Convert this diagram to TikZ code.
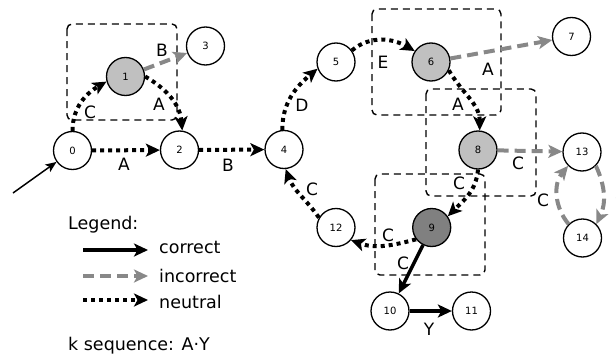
\documentclass[tikz,border=0pt]{standalone}
\usepackage{fontspec}
\setmainfont{DejaVu Sans}
\usetikzlibrary{arrows.meta}
\definecolor{lgray}{RGB}{192,192,192}
\definecolor{dgray}{RGB}{128,128,128}
\definecolor{egray}{RGB}{136,136,136}
\begin{document}
\begin{tikzpicture}[x=1pt,y=1pt,
  st/.style={circle, draw, line width=1.3pt, minimum size=38pt, inner sep=0pt, fill=white, font=\fontsize{10}{12}\selectfont},
  bigtip/.style={-{Stealth[length=14pt,width=13pt,inset=3.5pt]}},
  neutral/.style={bigtip, line width=4pt, dash pattern=on 4pt off 4pt},
  incorrect/.style={bigtip, draw=egray, line width=4pt, dash pattern=on 11pt off 6pt},
  correct/.style={bigtip, line width=3.5pt},
  initarrow/.style={-{Stealth[length=11pt,width=9pt,inset=2.5pt]}, line width=1.5pt},
  boxd/.style={draw, line width=1.4pt, dash pattern=on 7pt off 5pt, rounded corners=5pt},
  lbl/.style={font=\fontsize{17}{20}\selectfont, inner sep=0pt},
  txt/.style={font=\fontsize{17.5}{20}\selectfont, inner sep=0pt, anchor=base west}]
\useasboundingbox (0,0) rectangle (616,-356);
% boxes
\draw[boxd] (67,-24) rectangle (177,-120);
\draw[boxd] (372,-9) rectangle (501,-115);
\draw[boxd] (426,-89) rectangle (536,-196);
\draw[boxd] (375,-174) rectangle (485,-275);
% nodes
\node[st] (n0) at (72.5,-150.5) {0};
\node[st, fill=lgray] (n1) at (125.5,-76.5) {1};
\node[st] (n2) at (179.5,-150) {2};
\node[st] (n3) at (205.5,-46) {3};
\node[st] (n4) at (284,-149.5) {4};
\node[st] (n5) at (336,-62) {5};
\node[st, fill=lgray] (n6) at (431,-62) {6};
\node[st] (n7) at (571.5,-36.5) {7};
\node[st, fill=lgray] (n8) at (478,-150) {8};
\node[st, fill=dgray] (n9) at (431.7,-227.5) {9};
\node[st] (n10) at (390,-311) {10};
\node[st] (n11) at (471.5,-311) {11};
\node[st] (n12) at (336,-227.5) {12};
\node[st] (n13) at (582,-152) {13};
\node[st] (n14) at (582.5,-238) {14};
% initial
\coordinate (init) at (13,-193);
\draw[initarrow] (init) -- (n0);
% edges
\draw[neutral] (n0) -- (n2) node[lbl] at (124,-164) {A};
\draw[neutral] (n2) -- (n4) node[lbl] at (228,-165) {B};
\draw[neutral] (n0.90) to[out=90,in=210] (n1.195) node[lbl] at (90,-112) {C};
\draw[neutral] (n1.0) to[out=-30,in=95] (n2.82) node[lbl] at (159,-104) {A};
\draw[incorrect] (n1) -- (n3) node[lbl] at (162,-50) {B};
\draw[neutral] (n4.95) to[out=90,in=220] (n5.200) node[lbl] at (302,-105) {D};
\draw[neutral] (n5.36) to[out=40,in=150] (n6.146) node[lbl] at (383,-62) {E};
\draw[incorrect] (n6) -- (n7) node[lbl] at (488,-69) {A};
\draw[neutral] (n6.-25) to[out=-60,in=90] (n8.85) node[lbl] at (458,-104) {A};
\draw[incorrect] (n8) -- (n13) node[lbl] at (518,-163) {C};
\draw[neutral] (n8.-90) to[out=-95,in=45] (n9.35) node[lbl] at (459,-183) {C};
\draw[neutral] (n9.217) to[out=195,in=-20] (n12.-40) node[lbl] at (388,-235) {C};
\draw[correct] (n9) -- (n10) node[lbl] at (403,-263) {C};
\draw[correct] (n10) -- (n11) node[lbl] at (429,-329) {Y};
\draw[neutral] (n12.150) to[out=125,in=-70] (n4.-85) node[lbl] at (312,-189) {C};
\draw[incorrect] (n13.-45) to[out=-65,in=65] (n14.45) node[lbl] at (621,-198) {C};
\draw[incorrect] (n14.135) to[out=130,in=-130] (n13.-135) node[lbl] at (543,-200) {C};
% legend
\node[txt] (leg) at (68,-229) {Legend:};
\coordinate (c1) at (83,-250);
\coordinate (c2) at (148,-250);
\coordinate (i1) at (83,-276);
\coordinate (i2) at (148,-276);
\coordinate (u1) at (83,-300);
\coordinate (u2) at (148,-300);
\draw[correct] (c1) -- (c2);
\draw[incorrect] (i1) -- (i2);
\draw[neutral] (u1) -- (u2);
\node[txt] (tc) at (159,-253) {correct};
\node[txt] (ti) at (159,-282) {incorrect};
\node[txt] (tn) at (159,-308) {neutral};
\node[txt] (ks) at (68,-350) {k sequence: A·Y};
\end{tikzpicture}
\end{document}
